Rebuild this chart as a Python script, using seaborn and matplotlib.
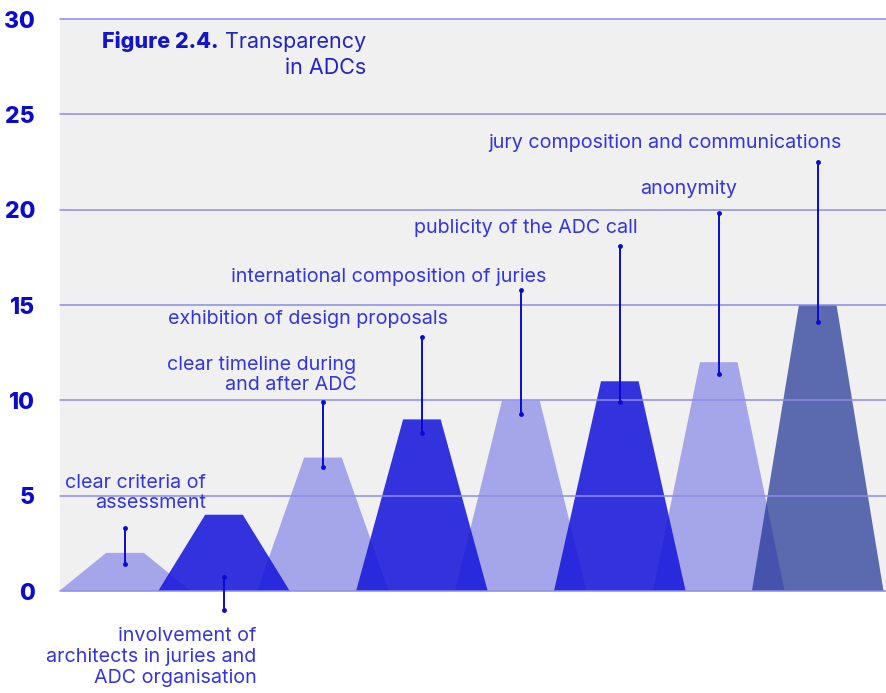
import matplotlib
matplotlib.use("Agg")
import matplotlib.pyplot as plt
import seaborn as sns

# Survey results: number of ADCs reporting each transparency measure
categories = [
    "clear criteria of\nassessment",
    "involvement of\narchitects in juries and\nADC organisation",
    "clear timeline during\nand after ADC",
    "exhibition of design proposals",
    "international composition of juries",
    "publicity of the ADC call",
    "anonymity",
    "jury composition and communications",
]
values = [2, 4, 7, 9, 10, 11, 12, 15]
tones = ["light", "bright", "light", "bright", "light", "bright", "light", "dark"]
y_ticks = [0, 5, 10, 15, 20, 25, 30]

# Leader-line layout (data units): line ends and label anchor
line_low = [1.4, -1.0, 6.5, 8.3, 9.3, 9.9, 11.4, 14.1]
line_high = [3.3, 0.75, 9.9, 13.3, 15.8, 18.1, 19.8, 22.5]
label_dx = [0.82, 0.33, 0.34, 0.26, 0.26, 0.18, 0.19, 0.24]
label_y = [5.14, -3.46, 11.33, 14.26, 16.47, 19.04, 21.08, 23.49]

sns.set_theme(style="white")
plt.rcParams["font.family"] = ["Inter", "DejaVu Sans"]

fill_styles = {
    "light": ("#1919dc", 0.35),
    "bright": ("#1919dc", 0.88),
    "dark": ("#1c3092", 0.70),
}
grid_color = "#8c8ceb"
tick_color = "#0b0bcc"
label_color = "#3535e0"
line_color = "#0a0ad0"

fig = plt.figure(figsize=(8.86, 6.93), dpi=100)
ax = fig.add_axes([60 / 886, 102 / 693, 826 / 886, 572 / 693])
ax.set_facecolor("#f0f0f0")

half_base, half_top = 0.665, 0.19
for i, (v, tone) in enumerate(zip(values, tones)):
    color, alpha = fill_styles[tone]
    ax.fill([i - half_base, i - half_top, i + half_top, i + half_base],
            [0, v, v, 0], color=color, alpha=alpha, lw=0, zorder=2)

for t in y_ticks:
    ax.axhline(t, color=grid_color, lw=1.1, zorder=3, clip_on=False)

# Leader lines with dot ends and labels
for i, (lo, hi, dx, ly, txt) in enumerate(zip(line_low, line_high, label_dx, label_y, categories)):
    ax.plot([i, i], [lo, hi], color=line_color, lw=1.4, zorder=5, clip_on=False,
            marker="o", markersize=3.5, markeredgewidth=0)
    ax.text(i + dx, ly, txt, ha="right", va="center", fontsize=14.2,
            color=label_color, linespacing=1.2, zorder=6, clip_on=False)

ax.set_xlim(-0.657, 7.69)
ax.set_ylim(0, 30)
ax.set_xticks([])
ax.set_yticks(y_ticks)
ax.set_yticklabels([str(t) for t in y_ticks], fontsize=16.5, fontweight="heavy",
                   color=tick_color)
ax.tick_params(axis="y", length=0, pad=18)
sns.despine(ax=ax, left=True, bottom=True, top=True, right=True)

# Title block
title_y = 1 - 42 / 693
t_reg = fig.text(366 / 886, title_y, "Transparency", ha="right", va="center",
                 fontsize=15.5, color="#2323c0")
fig.canvas.draw()
bb = t_reg.get_window_extent(renderer=fig.canvas.get_renderer())
fig.text((bb.x0 - 6) / 886, title_y, "Figure 2.4.", ha="right", va="center",
         fontsize=15.5, fontweight="heavy", color="#1414c8")
fig.text(366 / 886, 1 - 68 / 693, "in ADCs", ha="right", va="center",
         fontsize=15.5, color="#2323c0")

fig.savefig("out.png", dpi=100, facecolor="white")
